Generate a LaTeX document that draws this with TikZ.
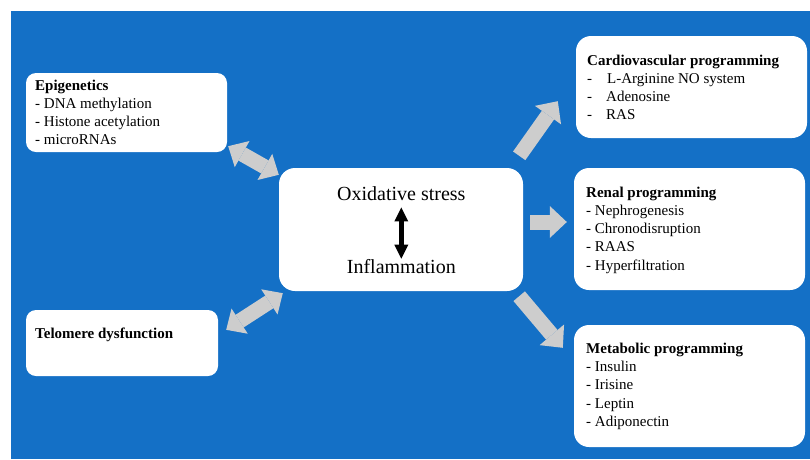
\documentclass[tikz,border=0pt]{standalone}
\usepackage{fontspec}
\setmainfont{Liberation Serif}
\usetikzlibrary{arrows.meta,calc}
\definecolor{bgblue}{RGB}{20,112,198}
\definecolor{arrgray}{RGB}{205,205,205}
\begin{document}
\begin{tikzpicture}[x=1pt,y=-1pt,
  box/.style={fill=white, draw=none, inner sep=0pt, rounded corners=#1},
  box/.default=14pt,
  boxtext/.style={anchor=base west, align=left, inner sep=0pt, font=\fontsize{15}{18.3}\selectfont},
  bigtext/.style={anchor=base, inner sep=0pt, font=\fontsize{20}{24}\selectfont},
  dblarrow/.style={line width=15pt, draw=arrgray,
    arrows={Triangle[width=30pt,length=16pt,line width=0pt]-Triangle[width=30pt,length=16pt,line width=0pt]}},
  onearrow/.style={line width=15pt, draw=arrgray,
    arrows={-Triangle[width=32pt,length=17pt,line width=0pt]}},
  blackarrow/.style={line width=5pt, draw=black,
    arrows={Triangle[width=14pt,length=14pt,line width=0pt]-Triangle[width=14pt,length=14pt,line width=0pt]}}
]
\useasboundingbox (0,0) rectangle (810,459);
\fill[bgblue] (11,11) rectangle (810,459);

% boxes
\node[box=10pt, minimum width=201pt, minimum height=79pt] (epi) at (126.5,112.5) {};
\node[box=10pt, minimum width=192pt, minimum height=66pt] (tel) at (122,343) {};
\node[box=16pt, minimum width=244pt, minimum height=123pt] (ctr) at (401,229.5) {};
\node[box=15pt, minimum width=231pt, minimum height=102pt] (car) at (691.5,87) {};
\node[box=15pt, minimum width=231pt, minimum height=122pt] (ren) at (689.5,229) {};
\node[box=15pt, minimum width=231pt, minimum height=122pt] (met) at (689.5,386) {};

% texts (base anchor = baseline of the last line)
\node[boxtext] (epit) at (35,144.9) {\textbf{Epigenetics}\\- DNA methylation\\- Histone acetylation\\- microRNAs};
\node[boxtext] (telt) at (35,338) {\textbf{Telomere dysfunction}};
\node[boxtext] (cart) at (587,119.9) {\textbf{Cardiovascular programming}\\-\hspace{15pt}L-Arginine NO system\\-\hspace{14pt}Adenosine\\-\hspace{14pt}RAS};
\node[boxtext] (rent) at (586,270.2) {\textbf{Renal programming}\\- Nephrogenesis\\- Chronodisruption\\- RAAS\\- Hyperfiltration};
\node[boxtext] (mett) at (586,426.5) {\textbf{Metabolic programming}\\- Insulin\\- Irisine\\- Leptin\\- Adiponectin};
\node[bigtext] (ox) at (401.3,200) {Oxidative stress};
\node[bigtext] (inf) at (401.3,273) {Inflammation};

% connectors
\draw[dblarrow] ($(epi.south east)+(1,-6)$) -- ($(ctr.north west)+(0,7)$);
\draw[dblarrow] ($(tel.north east)+(8,20)$) -- ($(ctr.south west)+(4,2)$);
\draw[onearrow] ($(ctr.north east)+(-4,-12)$) -- ($(car.south west)+(-18,-37)$);
\draw[onearrow] ($(ctr.east)+(7,-7.5)$) -- ($(ren.west)+(-7,-7)$);
\draw[onearrow] ($(ctr.south east)+(-4,5)$) -- ($(met.north west)+(-11,23)$);
\draw[blackarrow] ($(ox.south)+(0,7)$) -- (inf.north);
\end{tikzpicture}
\end{document}
